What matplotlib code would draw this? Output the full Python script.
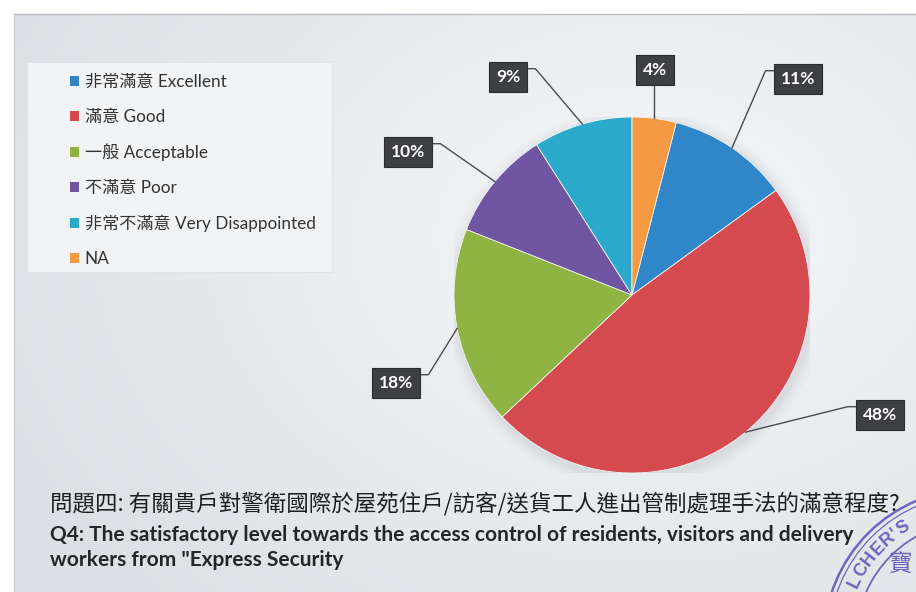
import numpy as np
import matplotlib
matplotlib.use("Agg")
import matplotlib.pyplot as plt
from matplotlib.patches import Patch, Circle, Rectangle

# ---- data ----
labels_zh = ["非常滿意", "滿意", "一般", "不滿意", "非常不滿意", ""]
labels_en = ["Excellent", "Good", "Acceptable", "Poor", "Very Disappointed", "NA"]
shares = [11, 48, 18, 10, 9, 4]
colors = ["#2f86c8", "#d54a4e", "#8fb443", "#6f55a2", "#2ba9cb", "#f59a42"]

title_zh = "問題四: 有關貴戶對警衛國際於屋苑住戶/訪客/送貨工人進出管制處理手法的滿意程度?"
title_en = ["Q4: The satisfactory level towards the access control of residents, visitors and delivery",
            "workers from \"Express Security"]

W, H, DPI = 916, 592, 100
fig = plt.figure(figsize=(W / DPI, H / DPI), dpi=DPI)
fig.patch.set_facecolor("white")

def fx(px):
    return px / W

def fy(py):
    return 1 - py / H

# ---- slide background ----
bg = fig.add_axes([0, 0, 1, 1], zorder=0)
bg.set_xlim(0, W)
bg.set_ylim(H, 0)
bg.axis("off")
yy, xx = np.mgrid[0:H, 0:W]
d = np.sqrt(((xx - 640) / 700.0) ** 2 + ((yy - 230) / 520.0) ** 2)
d = np.clip(d, 0, 1)
light = np.array([0.965, 0.972, 0.978])
dark = np.array([0.860, 0.880, 0.895])
img = light[None, None, :] * (1 - d[..., None]) + dark[None, None, :] * d[..., None]
bg.imshow(img, extent=(14, W, H, 14), aspect="auto", interpolation="bilinear")
bg.plot([14, W], [14, 14], color="#b8bcc0", lw=1)
bg.plot([14, 14], [14, H], color="#c8ccd0", lw=1)

# legend panel
bg.add_patch(Rectangle((27, 62), 305, 210, facecolor="#f1f3f5", edgecolor="#e1e4e7", lw=0.8))

# ---- pie ----
cx, cy, R = 632, 295, 178
ax = fig.add_axes([fx(cx - R), fy(cy + R), 2 * R / W, 2 * R / H], zorder=1)

# soft drop shadow under the pie
for i, a in enumerate(np.linspace(0.05, 0.01, 6)):
    ax.add_patch(Circle((0.012, -0.02), 1.0 + 0.012 * (i + 1), color="#8a9096", alpha=a, lw=0, zorder=0))

start = 90 - 360 * shares[-1] / sum(shares)
wedges, _ = ax.pie(shares, colors=colors, startangle=start, counterclock=False, radius=1.0,
                   wedgeprops=dict(edgecolor="#f4f4f4", linewidth=0.6))
for w in wedges:
    w.set_zorder(1)
ax.set_aspect("auto")
ax.set_xlim(-1, 1)
ax.set_ylim(-1, 1)
ax.axis("off")

# label box centres (pixels)
box_px = [(798, 79), (880, 415), (396, 383), (408, 152), (508, 77), (655, 70)]

texts = []
for w, v, (bx, by) in zip(wedges, shares, box_px):
    t = ax.text((bx - cx) / R, (cy - by) / R, f"{v}%", ha="center", va="center",
                color="white", fontsize=12.5, fontweight="bold", family=["Lato", "DejaVu Sans"],
                bbox=dict(boxstyle="square,pad=0.42", facecolor="#3d3f42", edgecolor="#2b2c2e", lw=0.8),
                zorder=5, clip_on=False)
    texts.append(t)
fig.canvas.draw()

inv = ax.transData.inverted()
for w, t in zip(wedges, texts):
    mid = np.deg2rad((w.theta1 + w.theta2) / 2)
    ax_pt = np.array([np.cos(mid), np.sin(mid)])
    anchor_disp = ax.transData.transform(ax_pt)
    bb = t.get_bbox_patch().get_window_extent()
    bxc = (bb.x0 + bb.x1) / 2
    if abs(bxc - anchor_disp[0]) < 15:
        pts = [(anchor_disp[0], bb.y0), tuple(anchor_disp)]
    elif bxc > anchor_disp[0]:
        ya = bb.y1 - 7
        pts = [(bb.x0, ya), (bb.x0 - 8, ya), tuple(anchor_disp)]
    else:
        ya = bb.y1 - 7
        pts = [(bb.x1, ya), (bb.x1 + 8, ya), tuple(anchor_disp)]
    data_pts = inv.transform(np.array(pts))
    ax.plot(data_pts[:, 0], data_pts[:, 1], color="#4a4c4f", lw=1.0, zorder=4, clip_on=False)

# ---- legend ----
handles = [Patch(facecolor=c, edgecolor="none") for c in colors]
leg_labels = [(z + " " + e).strip() for z, e in zip(labels_zh, labels_en)]
fig.legend(handles, leg_labels, loc="upper left", bbox_to_anchor=(fx(70), fy(74)),
           frameon=False, prop=dict(family=["Lato", "Noto Sans CJK TC"], size=12.3),
           handlelength=0.5, handleheight=0.5, handletextpad=0.35,
           labelspacing=1.1, borderpad=0, borderaxespad=0, labelcolor="#333333")

# ---- titles ----
fig.text(fx(50), fy(504), title_zh, ha="left", va="center", fontsize=16.2,
         family=["Noto Sans CJK TC"], color="#1e1e1e")
fig.text(fx(50), fy(535), title_en[0], ha="left", va="center", fontsize=15,
         fontweight="bold", family=["Lato"], color="#262626")
fig.text(fx(50), fy(560), title_en[1], ha="left", va="center", fontsize=15,
         fontweight="bold", family=["Lato"], color="#262626")

# ---- company seal (partial, bottom right) ----
ov = fig.add_axes([0, 0, 1, 1], zorder=3)
ov.set_xlim(0, W)
ov.set_ylim(H, 0)
ov.axis("off")
scx, scy = 975, 640
ink = "#5850b8"
for r, lw in [(151, 1.8), (146, 0.9), (119, 1.3)]:
    ov.add_patch(Circle((scx, scy), r, fill=False, edgecolor=ink, lw=lw, alpha=0.85))
seal_txt = "LCHER'S"
angs = [154, 148.5, 142.5, 136.5, 131, 127, 122.5]
for ch, a in zip(seal_txt, angs):
    ar = np.deg2rad(a)
    x = scx + 133 * np.cos(ar)
    y = scy - 133 * np.sin(ar)
    ov.text(x, y, ch, rotation=a - 90, ha="center", va="center", fontsize=13,
            fontweight="bold", color=ink, alpha=0.85, family=["Liberation Sans"])
ov.text(901, 564, "寶", ha="center", va="center", fontsize=17, color=ink, alpha=0.85,
        family=["Noto Sans CJK TC"])

fig.savefig("out.png", dpi=DPI)
